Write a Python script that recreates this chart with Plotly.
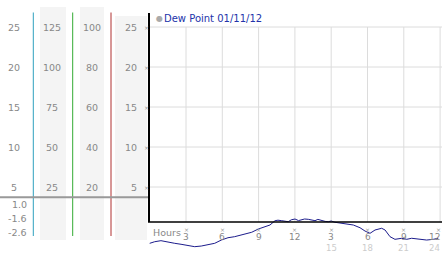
import plotly.graph_objects as go

W, H = 442, 253

# ---------------- data ----------------
hours = [0.0, 0.41, 0.93, 1.51, 2.07, 2.59, 3.17, 3.72, 4.26, 4.82, 5.37, 5.92, 6.47, 7.02,
         7.57, 8.07, 8.43, 8.98, 9.53, 9.94, 10.36, 10.6, 10.91, 11.2, 11.45, 11.7, 12.01,
         12.3, 12.56, 12.8, 13.11, 13.4, 13.66, 13.9, 14.21, 14.5, 14.76, 15.0, 15.31, 15.87,
         16.28, 16.83, 17.38, 17.79, 18.21, 18.62, 19.17, 19.45, 19.86, 20.27, 20.83, 21.24,
         21.65, 22.34, 22.89, 23.44, 23.85]
dew = [-2.04, -1.84, -1.71, -1.91, -2.04, -2.16, -2.34, -2.46, -2.38, -2.25, -2.04, -1.63,
       -1.34, -1.21, -1.0, -0.79, -0.66, -0.25, 0.04, 0.25, 0.79, 0.85, 0.79, 0.7, 0.66, 0.9,
       1.0, 0.8, 0.875, 1.0, 0.96, 0.85, 0.79, 0.95, 0.79, 0.7, 0.66, 0.75, 0.59, 0.46,
       0.34, 0.25, -0.09, -0.5, -0.79, -0.375, -0.16, -0.375, -1.21, -1.54, -1.41, -1.54,
       -1.41, -1.54, -1.63, -1.54, -1.41]

series_name = "Dew Point 01/11/12"
scale0 = ["25", "20", "15", "10", "5"]
scale1 = ["125", "100", "75", "50", "25"]
scale2 = ["100", "80", "60", "40", "20"]
scale3 = ["25", "20", "15", "10", "5"]
y_ticks = [25, 20, 15, 10, 5]
low_labels = ["1.0", "-1.6", "-2.6"]
x_ticks = [3, 6, 9, 12, 15, 18, 21, 24]
x_tick_text = ["3", "6", "9", "12", "3", "6", "9", "12"]
x_tick_text2 = ["15", "18", "21", "24"]

# ---------------- scales (pixel mapping) ----------------
X0, XS = 149.7, 12.1      # pixel of hour 0, px per hour
Y25, YS = 27.0, 8.0       # pixel of value 25, px per unit
xr = [(0 - X0) / XS, (W - X0) / XS]
yr = [25 - (H - Y25) / YS, 25 + Y25 / YS]
def vx(p): return (p - X0) / XS
def vy(p): return 25 - (p - Y25) / YS
def px(p): return p / W
def py(p): return 1 - p / H

FONT = "DejaVu Sans"
FS = 9.5
fig = go.Figure()
fig.add_trace(go.Scatter(x=hours, y=dew, mode="lines", name=series_name,
                         line=dict(color="#1c1c8c", width=1), hoverinfo="skip"))

shapes = []
# left shaded columns
for x0, x1, y0, y1 in [(40, 66, 7, 240), (80, 104, 7, 240), (115, 147, 16, 240)]:
    shapes.append(dict(type="rect", xref="paper", yref="paper", x0=px(x0), x1=px(x1),
                       y0=py(y1), y1=py(y0), fillcolor="#f4f4f4", line_width=0, layer="below"))
# gridlines
for t in x_ticks:
    shapes.append(dict(type="line", x0=t, x1=t, y0=vy(222), y1=25,
                       line=dict(color="#dcdcdc", width=1), layer="below"))
for t in y_ticks:
    shapes.append(dict(type="line", x0=0, x1=xr[1], y0=t, y1=t,
                       line=dict(color="#dcdcdc", width=1), layer="below"))
# coloured separators
for xc, col in [(33.3, "#2fa0bf"), (72.7, "#33aa33"), (111, "#b03030")]:
    shapes.append(dict(type="line", xref="paper", yref="paper", x0=px(xc), x1=px(xc),
                       y0=py(236), y1=py(12.5), line=dict(color=col, width=1)))
# gray horizontal line in left panel
shapes.append(dict(type="line", xref="paper", yref="paper", x0=0, x1=px(148),
                   y0=py(197.3), y1=py(197.3), line=dict(color="#999999", width=2)))
# black axis lines
shapes.append(dict(type="line", x0=vx(149), x1=vx(149), y0=vy(222), y1=vy(13),
                   line=dict(color="#000000", width=2)))
shapes.append(dict(type="line", x0=vx(148), x1=xr[1], y0=vy(222), y1=vy(222),
                   line=dict(color="#000000", width=1.5)))

ann = []
def txt(x, y, s, color="#888888", size=FS, xanchor="center"):
    ann.append(dict(xref="paper", yref="paper", x=px(x), y=py(y), text=s, showarrow=False,
                    xanchor=xanchor, yanchor="middle", borderpad=0,
                    font=dict(family=FONT, size=size, color=color)))

for i, t in enumerate(y_ticks):
    yy = Y25 + (25 - t) * YS
    txt(14, yy, scale0[i])
    txt(52, yy, scale1[i])
    txt(92, yy, scale2[i])
    txt(138, yy, scale3[i], xanchor="right")
    txt(146, yy, "×", color="#999999", size=6)
for s, yy in zip(low_labels, [204, 218.5, 232]):
    txt(28, yy, s, xanchor="right")

# legend
txt(159, 18, "●", color="#aaaaaa", size=8)
txt(163, 18, series_name, color="#2233aa", size=10, xanchor="left")

# x axis labels
txt(152, 232, "Hours", xanchor="left")
for i, t in enumerate(x_ticks):
    xx = X0 + t * XS
    txt(min(xx, 438), 229, "×", color="#999999", size=6)
    if xx + 8 > W:
        txt(W - 1, 237, x_tick_text[i], size=9, xanchor="right")
    else:
        txt(xx, 237, x_tick_text[i], size=9)
for i, t in enumerate(x_ticks[4:]):
    xx = X0 + t * XS
    if xx + 8 > W:
        txt(W - 1, 247.5, x_tick_text2[i], color="#cccccc", size=8.5, xanchor="right")
    else:
        txt(xx, 247.5, x_tick_text2[i], color="#cccccc", size=8.5)

fig.update_layout(
    width=W, height=H, margin=dict(l=0, r=0, t=0, b=0),
    paper_bgcolor="white", plot_bgcolor="white", showlegend=False,
    xaxis=dict(range=xr, visible=False, fixedrange=True),
    yaxis=dict(range=yr, visible=False, fixedrange=True),
    shapes=shapes, annotations=ann,
)
fig.write_html("out.html")
